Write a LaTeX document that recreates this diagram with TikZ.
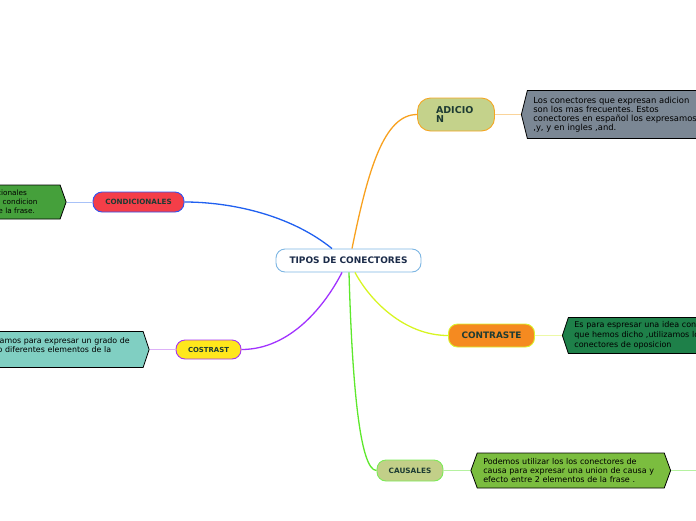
\documentclass[tikz,border=0pt]{standalone}
\usepackage{fontspec}
\setmainfont{DejaVu Sans}
\usepackage{tikz}
\usetikzlibrary{positioning,shapes.symbols}
\definecolor{tcBlue}{HTML}{7DB6E3}
\definecolor{tcNavy}{HTML}{1B2B49}
\definecolor{tcInk}{HTML}{1D3B33}
\definecolor{adFill}{HTML}{C4D28B}
\definecolor{adLine}{HTML}{F5A623}
\definecolor{adNote}{HTML}{7B8794}
\definecolor{cdFill}{HTML}{F43E48}
\definecolor{cdLine}{HTML}{2F54F5}
\definecolor{cdNote}{HTML}{45A03B}
\definecolor{csFill}{HTML}{FFE71C}
\definecolor{csLine}{HTML}{A533F2}
\definecolor{csNote}{HTML}{80CFC2}
\definecolor{ctFill}{HTML}{F58A20}
\definecolor{ctLine}{HTML}{D9F42C}
\definecolor{ctNote}{HTML}{1E8049}
\definecolor{caFill}{HTML}{C2CF88}
\definecolor{caLine}{HTML}{7CEB58}
\definecolor{caNote}{HTML}{7BBD3F}
\definecolor{brOrange}{HTML}{F8A11F}
\definecolor{brBlue}{HTML}{2060F0}
\definecolor{brPurple}{HTML}{A132FF}
\definecolor{brYellow}{HTML}{D7F522}
\definecolor{brGreen}{HTML}{5EE82C}
\definecolor{twOrange}{HTML}{FAD49A}
\definecolor{twBlue}{HTML}{A8C2F8}
\definecolor{twPurple}{HTML}{DDB1F8}
\definecolor{twYellow}{HTML}{EDF9A6}
\definecolor{twGreen}{HTML}{B5F2A0}

\begin{document}
\frenchspacing
\begin{tikzpicture}[
  x=1pt, y=-1pt,
  topic/.style={
    rectangle,
    rounded corners=9pt,
    line width=0.9pt,
    inner sep=0pt,
    align=center,
    text=tcInk
  },
  note/.style={
    signal,
    signal to=west,
    signal pointer angle=143,
    draw=black,
    line width=0.8pt,
    align=left,
    inner xsep=6pt,
    inner ysep=2pt,
    minimum height=36pt,
    text=black,
    font=\fontsize{8}{9}\selectfont
  },
  branch/.style={line width=1.3pt},
  twig/.style={line width=0.8pt}
]
  \useasboundingbox (0,0) rectangle (696,520);
  \clip (0,0) rectangle (696,520);

  % central topic and branches
  \node[topic, draw=tcBlue, fill=white, minimum width=145pt, minimum height=23pt,
    text=tcNavy, font=\bfseries\fontsize{9}{10}\selectfont] (root) at (348.5,260.5) {TIPOS DE CONECTORES};

  \node[topic, draw=adLine, fill=adFill, minimum width=77pt, minimum height=33pt,
    rounded corners=13pt, text width=40pt, align=left,
    font=\bfseries\fontsize{9.5}{9.6}\selectfont] (adicion) at (456,114.5) {ADICIO\\N};
  \node[topic, draw=cdLine, fill=cdFill, minimum width=91pt, minimum height=20pt,
    font=\bfseries\fontsize{7.2}{8}\selectfont] (cond) at (138.5,202) {CONDICIONALES};
  \node[topic, draw=csLine, fill=csFill, minimum width=65pt, minimum height=19pt,
    font=\bfseries\fontsize{6.9}{8}\selectfont] (cost) at (208.5,349.5) {COSTRAST};
  \node[topic, draw=ctLine, fill=ctFill, minimum width=86pt, minimum height=23pt,
    font=\bfseries\fontsize{8.9}{10}\selectfont] (cont) at (491.5,335.5) {CONTRASTE};
  \node[topic, draw=caLine, fill=caFill, minimum width=66pt, minimum height=21pt,
    font=\bfseries\fontsize{7.3}{8}\selectfont] (caus) at (410,470.5) {CAUSALES};

  % notes
  \node[note, fill=adNote, right=26pt of adicion, signal pointer angle=152,
    minimum height=48pt, text width=170pt, font=\fontsize{8.4}{9.2}\selectfont] (adicionTxt)
    {Los conectores que expresan adicion\\son los mas frecuentes. Estos\\conectores en español los expresamos\\,y, y en ingles ,and.};
  \node[note, fill=cdNote, signal to=east, left=26pt of cond, signal pointer angle=141,
    minimum height=34pt, text width=121pt, font=\fontsize{7.3}{9}\selectfont] (condTxt)
    {Usamos los condicionales\\para expresar una condicion\\que esta dentro de la frase.};
  \node[note, fill=csNote, signal to=east, left=26pt of cost, text width=157pt,
    font=\fontsize{7.9}{9}\selectfont] (costTxt)
    {Utilizamos para expresar un grado de\\uno o diferentes elementos de la\\[1pt]\mbox{}};
  \node[note, fill=ctNote, right=27pt of cont, text width=200pt,
    font=\fontsize{8}{9.8}\selectfont] (contTxt)
    {Es para espresar una idea contraria a lo\\que hemos dicho ,utilizamos los\\conectores de oposicion};
  \node[note, fill=caNote, signal to=west and east, right=27pt of caus, signal pointer angle=140,
    minimum height=35pt, text width=175pt] (causTxt)
    {Podemos utilizar los los conectores de\\causa para expresar una union de causa y\\efecto entre 2 elementos de la frase .};
  \node[topic, draw=caLine, fill=white, minimum width=60pt, minimum height=21pt,
    right=26pt of causTxt] (causMore) {};

  \draw[branch, draw=brOrange] ([xshift=3.5pt]root.north) .. controls +(16,-79) and +(-33,0) .. (adicion.west);
  \draw[branch, draw=brBlue] ([xshift=-16.5pt]root.north) .. controls +(-42,-34) and +(46,0) .. (cond.east);
  \draw[branch, draw=brPurple] ([xshift=-6.5pt]root.south) .. controls +(-17,33) and +(49,0) .. (cost.east);
  \draw[branch, draw=brYellow] ([xshift=6.5pt]root.south) .. controls +(15,28) and +(-44,0) .. (cont.west);
  \draw[branch, draw=brGreen] ([xshift=0.5pt]root.south) .. controls +(3,108) and +(-17,0) .. (caus.west);

  \draw[twig, draw=twOrange] (adicion.east) -- (adicionTxt.west);
  \draw[twig, draw=twBlue] (cond.west) -- (condTxt.east);
  \draw[twig, draw=twPurple] (cost.west) -- (costTxt.east);
  \draw[twig, draw=twYellow] (cont.east) -- (contTxt.west);
  \draw[twig, draw=twGreen] (caus.east) -- (causTxt.west);
  \draw[twig, draw=twGreen] (causTxt.east) -- (causMore.west);
\end{tikzpicture}
\end{document}
